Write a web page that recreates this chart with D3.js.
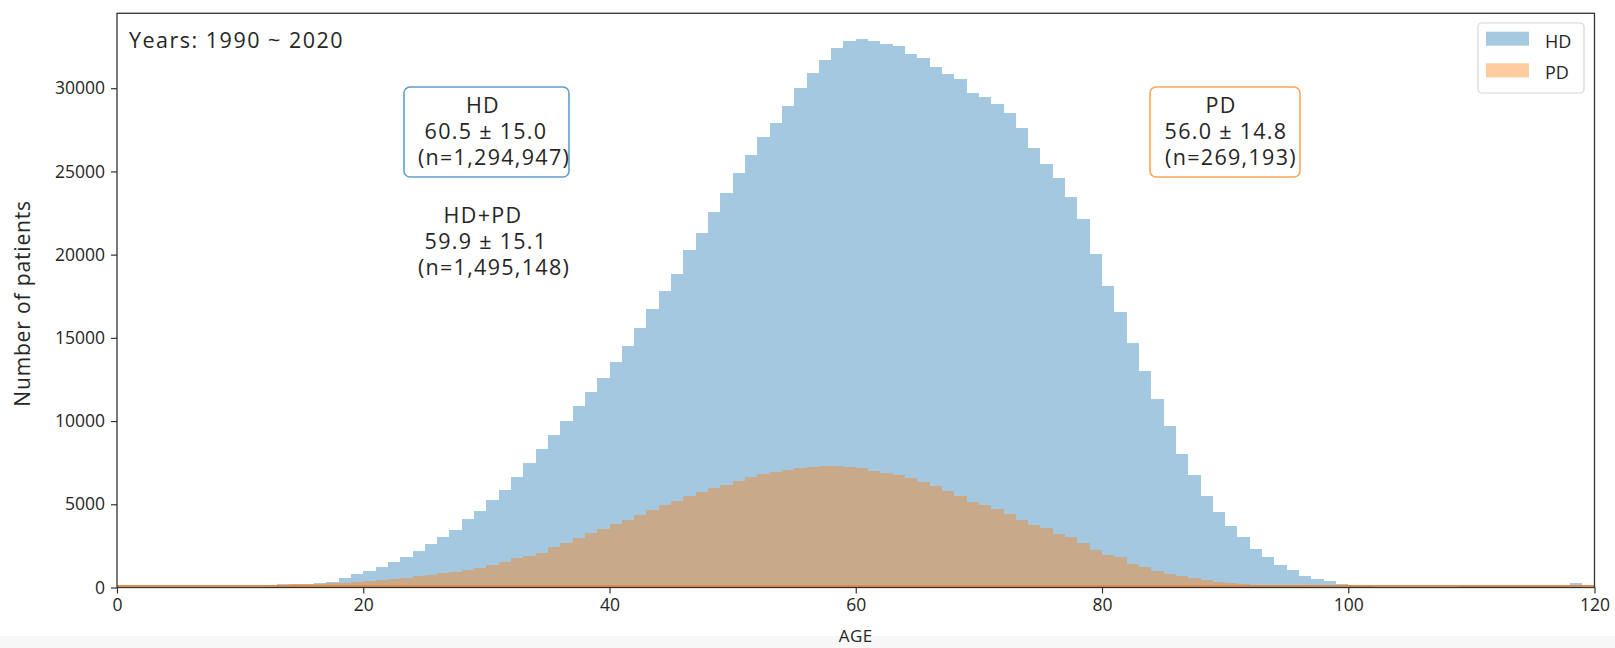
<!DOCTYPE html>
<html>
<head>
<meta charset="utf-8">
<script src="https://cdn.jsdelivr.net/npm/d3@7"></script>
<style>
  html, body { margin: 0; padding: 0; background: #ffffff; }
  svg text { font-family: "Open Sans", "DejaVu Sans", sans-serif; fill: #262626; }
</style>
</head>
<body>
<svg id="chart" width="1615" height="648"></svg>
<script>
// ---- data ----
const ages = d3.range(0, 120); // bin starts, bin width 1 year
const hdCounts = [
  0,0,0,0,0,0,0,0,0,0,               // 0-9
  0,0,0,190,210,240,270,360,580,790,  // 10-19
  1000,1230,1530,1850,2180,2600,3020,3470,4090,4610, // 20-29
  5250,5880,6630,7470,8320,9180,10030,10890,11740,12600, // 30-39
  13530,14490,15570,16750,17800,18860,20250,21290,22560,23730, // 40-49
  24900,25980,27050,27880,28940,29990,30940,31690,32430,32860, // 50-59
  32960,32860,32660,32540,32040,31800,31280,30860,30540,29700, // 60-69
  29480,29060,28500,27580,26420,25460,24600,23460,22170,20050, // 70-79
  18110,16530,14710,13030,11340,9730,8050,6760,5480,4510, // 80-89
  3690,3010,2300,1830,1350,1030,710,540,370,230, // 90-99
  160,150,0,0,0,0,0,0,0,150, // 100-109
  150,150,150,150,150,150,150,150,300,0 // 110-119
];
const pdCounts = [
  60,60,60,60,60,60,60,60,60,60, // 0-9
  60,60,160,180,190,200,240,250,300,360, // 10-19
  380,460,540,600,680,760,860,960,1040,1160, // 20-29
  1360,1560,1800,1900,2100,2440,2660,2950,3250,3520, // 30-39
  3800,4080,4380,4650,4930,5220,5520,5760,6000,6180, // 40-49
  6420,6640,6820,6930,7080,7190,7260,7300,7300,7260, // 50-59
  7190,6980,6870,6760,6550,6330,6120,5800,5480,5150, // 60-69
  4940,4720,4400,4080,3760,3590,3220,3010,2680,2250, // 70-79
  1980,1830,1440,1220,1010,820,710,580,430,320, // 80-89
  260,210,170,150,110,90,70,50,40,30, // 90-99
  0,0,0,0,0,0,0,0,0,0, // 100-109
  0,0,0,0,0,0,0,0,0,0  // 110-119
];
const xTicks = [0, 20, 40, 60, 80, 100, 120];
const yTicks = [0, 5000, 10000, 15000, 20000, 25000, 30000];
const seriesNames = ["HD", "PD"];
const yearsLabel = "Years: 1990 ~ 2020";
const hdStats = ["HD", "60.5 \u00b1 15.0", "(n=1,294,947)"];
const allStats = ["HD+PD", "59.9 \u00b1 15.1", "(n=1,495,148)"];
const pdStats = ["PD", "56.0 \u00b1 14.8", "(n=269,193)"];

// ---- layout ----
const svg = d3.select("#chart");
const L = 117, R = 1594.5, T = 13.3, B = 587.5;
const x = d3.scaleLinear().domain([0, 120]).range([L, R]);
const y = d3.scaleLinear().domain([0, 34500]).range([B, T]);
const colors = { HD: "#1f77b4", PD: "#ff7f0e" };

// bottom light strip of the screenshot
svg.append("rect").attr("x", 0).attr("y", 636).attr("width", 1615).attr("height", 12).attr("fill", "#f7f7f7");

// ---- bars ----
function drawHist(counts, color) {
  const g = svg.append("g").attr("opacity", 0.4).attr("shape-rendering", "crispEdges");
  g.selectAll("rect")
    .data(ages.map((a, i) => ({ a, v: counts[i] })).filter(d => d.v > 0))
    .join("rect")
    .attr("x", d => x(d.a))
    .attr("width", d => x(d.a + 1) - x(d.a))
    .attr("y", d => y(d.v))
    .attr("height", d => y(0) - y(d.v))
    .attr("fill", color);
}
drawHist(hdCounts, colors.HD);
drawHist(pdCounts, colors.PD);

// orange base line
svg.append("line")
  .attr("x1", x(0)).attr("x2", x(120))
  .attr("y1", y(0) - 1.6).attr("y2", y(0) - 1.6)
  .attr("stroke", "#e98a3c").attr("stroke-width", 1.6);

// ---- axes ----
const tickFont = 17.5;
const gx = svg.append("g").attr("transform", `translate(0,${B})`)
  .call(d3.axisBottom(x).tickValues(xTicks).tickSize(6).tickPadding(5).tickFormat(d3.format("d")));
const gy = svg.append("g").attr("transform", `translate(${L},0)`)
  .call(d3.axisLeft(y).tickValues(yTicks).tickSize(6).tickPadding(6).tickFormat(d3.format("d")));
[gx, gy].forEach(g => {
  g.select(".domain").remove();
  g.selectAll(".tick line").attr("stroke", "#333").attr("stroke-width", 1.2);
  g.selectAll(".tick text").attr("font-size", tickFont).style("fill", "#262626")
    .attr("font-family", "\"Open Sans\", sans-serif");
});

// frame
svg.append("rect")
  .attr("x", L).attr("y", T).attr("width", R - L).attr("height", B - T)
  .attr("fill", "none").attr("stroke", "#333").attr("stroke-width", 1.3);

// axis labels
svg.append("text")
  .attr("x", (L + R) / 2).attr("y", 642)
  .attr("text-anchor", "middle").attr("font-size", 17)
  .attr("letter-spacing", 0.5)
  .text("AGE");
svg.append("text")
  .attr("transform", `translate(30,${(T + B) / 2 + 3}) rotate(-90)`)
  .attr("text-anchor", "middle").attr("font-size", 21)
  .attr("letter-spacing", 0.85)
  .text("Number of patients");

// years label
svg.append("text")
  .attr("x", 129).attr("y", 47.5)
  .attr("font-size", 21.5)
  .attr("letter-spacing", 1.5)
  .style("white-space", "pre")
  .text(yearsLabel);

// ---- annotation boxes ----
function statBlock(lines, cx, offsets, baseY, boxColor, box) {
  if (box) {
    svg.append("rect")
      .attr("x", box[0]).attr("y", box[1])
      .attr("width", box[2] - box[0]).attr("height", box[3] - box[1])
      .attr("rx", 6).attr("ry", 6)
      .attr("fill", "#ffffff").attr("stroke", boxColor).attr("stroke-width", 1.6);
  }
  lines.forEach((t, i) => {
    svg.append("text")
      .attr("x", cx + offsets[i]).attr("y", baseY + i * 26)
      .attr("text-anchor", "middle").attr("font-size", 21.5)
      .attr("letter-spacing", 1.3)
      .style("white-space", "pre")
      .text(t);
  });
}
statBlock(hdStats, 486, [-3, 0, 8], 113, "#5f9fcb", [404, 87, 569, 177]);
statBlock(allStats, 486, [-3, 0, 8], 223, null, null);
statBlock(pdStats, 1225, [-4, 1, 6], 113, "#ffa556", [1150, 87, 1300, 177]);

// ---- legend ----
const lg = svg.append("g");
lg.append("rect")
  .attr("x", 1478).attr("y", 23).attr("width", 106).attr("height", 70)
  .attr("rx", 4).attr("ry", 4)
  .attr("fill", "#ffffff").attr("fill-opacity", 0.8)
  .attr("stroke", "#d6d6d6").attr("stroke-width", 1.2);
seriesNames.forEach((n, i) => {
  lg.append("rect")
    .attr("x", 1486).attr("y", 31.7 + i * 31.6)
    .attr("width", 43).attr("height", 14)
    .attr("fill", colors[n]).attr("opacity", 0.4);
  lg.append("text")
    .attr("x", 1545).attr("y", 47.6 + i * 31.6)
    .attr("font-size", 18)
    .text(n);
});
</script>
</body>
</html>
